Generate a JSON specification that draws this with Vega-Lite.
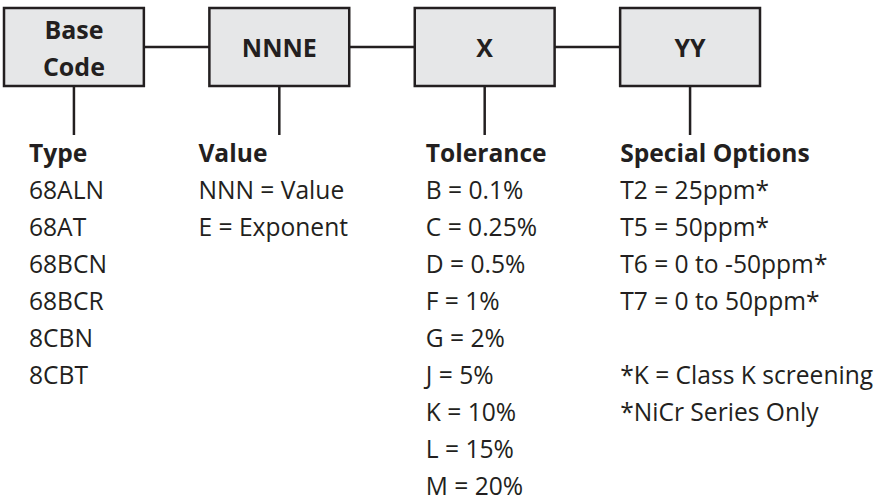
{
  "$schema": "https://vega.github.io/schema/vega-lite/v6.json",
  "width": 880,
  "height": 498,
  "padding": 0,
  "autosize": {"type": "none"},
  "background": "white",
  "config": {"view": {"stroke": null}},
  "datasets": {
    "boxes": [
      {"part": "Base Code", "label": "Base\nCode"},
      {"part": "NNNE", "label": "NNNE"},
      {"part": "X", "label": "X"},
      {"part": "YY", "label": "YY"}
    ],
    "items": [
      {"part": "Base Code", "row": 0, "head": true, "text": "Type"},
      {"part": "Base Code", "row": 1, "head": false, "text": "68ALN"},
      {"part": "Base Code", "row": 2, "head": false, "text": "68AT"},
      {"part": "Base Code", "row": 3, "head": false, "text": "68BCN"},
      {"part": "Base Code", "row": 4, "head": false, "text": "68BCR"},
      {"part": "Base Code", "row": 5, "head": false, "text": "8CBN"},
      {"part": "Base Code", "row": 6, "head": false, "text": "8CBT"},
      {"part": "NNNE", "row": 0, "head": true, "text": "Value"},
      {"part": "NNNE", "row": 1, "head": false, "text": "NNN = Value"},
      {"part": "NNNE", "row": 2, "head": false, "text": "E = Exponent"},
      {"part": "X", "row": 0, "head": true, "text": "Tolerance"},
      {"part": "X", "row": 1, "head": false, "text": "B = 0.1%"},
      {"part": "X", "row": 2, "head": false, "text": "C = 0.25%"},
      {"part": "X", "row": 3, "head": false, "text": "D = 0.5%"},
      {"part": "X", "row": 4, "head": false, "text": "F = 1%"},
      {"part": "X", "row": 5, "head": false, "text": "G = 2%"},
      {"part": "X", "row": 6, "head": false, "text": "J = 5%"},
      {"part": "X", "row": 7, "head": false, "text": "K = 10%"},
      {"part": "X", "row": 8, "head": false, "text": "L = 15%"},
      {"part": "X", "row": 9, "head": false, "text": "M = 20%"},
      {"part": "YY", "row": 0, "head": true, "text": "Special Options"},
      {"part": "YY", "row": 1, "head": false, "text": "T2 = 25ppm*"},
      {"part": "YY", "row": 2, "head": false, "text": "T5 = 50ppm*"},
      {"part": "YY", "row": 3, "head": false, "text": "T6 = 0 to -50ppm*"},
      {"part": "YY", "row": 4, "head": false, "text": "T7 = 0 to 50ppm*"},
      {"part": "YY", "row": 6, "head": false, "text": "*K = Class K screening"},
      {"part": "YY", "row": 7, "head": false, "text": "*NiCr Series Only"}
    ]
  },
  "layer": [
    {
      "data": {"name": "boxes"},
      "mark": {"type": "line", "color": "#231f20", "strokeWidth": 2.5},
      "encoding": {
        "x": {"field": "part", "type": "nominal", "sort": null, "axis": null,
              "scale": {"domain": ["Base Code", "NNNE", "X", "YY"], "range": [4, 760], "paddingInner": 0.319, "paddingOuter": 0}},
        "y": {"datum": -3.1, "type": "quantitative", "axis": null,
              "scale": {"domain": [-4.37, 9.089], "reverse": true, "nice": false, "zero": false}}
      }
    },
    {
      "data": {"name": "boxes"},
      "mark": {"type": "rect", "fill": "#e6e7e8", "stroke": "#231f20", "strokeWidth": 2.5},
      "encoding": {
        "x": {"field": "part", "type": "nominal", "sort": null, "axis": null},
        "y": {"datum": -4.154, "type": "quantitative", "axis": null},
        "y2": {"datum": -2.046}
      }
    },
    {
      "data": {"name": "boxes"},
      "mark": {"type": "rule", "color": "#231f20", "strokeWidth": 2.5},
      "encoding": {
        "x": {"field": "part", "type": "nominal", "sort": null, "axis": null},
        "y": {"datum": -2.046, "type": "quantitative", "axis": null},
        "y2": {"datum": -0.722}
      }
    },
    {
      "data": {"name": "boxes"},
      "mark": {"type": "text", "font": "Open Sans", "fontSize": 25, "fontWeight": "bold", "color": "#231f20",
               "align": "center", "baseline": "middle", "lineBreak": "\n", "lineHeight": 37,
               "dy": {"expr": "datum.part === 'Base Code' ? -16 : 2"}},
      "encoding": {
        "x": {"field": "part", "type": "nominal", "sort": null, "axis": null},
        "y": {"datum": -3.1, "type": "quantitative", "axis": null},
        "text": {"field": "label"}
      }
    },
    {
      "data": {"name": "items"},
      "mark": {"type": "text", "font": "Open Sans", "fontSize": 24.6, "color": "#231f20",
               "align": "left", "baseline": "alphabetic",
               "fontWeight": {"expr": "datum.head ? 'bold' : 'normal'"},
               "dx": {"expr": "datum.part === 'Base Code' ? 25 : datum.part === 'NNNE' ? -11 : datum.part === 'X' ? 11 : 0"}},
      "encoding": {
        "x": {"field": "part", "type": "nominal", "sort": null, "axis": null, "bandPosition": 0},
        "y": {"field": "row", "type": "quantitative", "axis": null},
        "text": {"field": "text"}
      }
    }
  ]
}
